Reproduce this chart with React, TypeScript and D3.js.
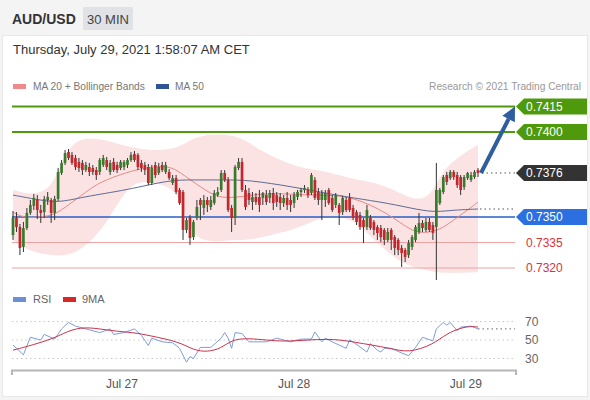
import React from "react";
import * as d3 from "d3";

// ---- Candles (30 min, AUD/USD) ----
const opens = [0.73394,0.73494,0.73441,0.73324,0.73435,0.73524,0.73565,0.73600,0.73541,0.73529,0.73600,0.73600,0.73524,0.73606,0.73759,0.73818,0.73882,0.73865,0.73847,0.73824,0.73818,0.73776,0.73794,0.73788,0.73776,0.73765,0.73806,0.73835,0.73765,0.73824,0.73806,0.73788,0.73794,0.73806,0.73835,0.73871,0.73865,0.73818,0.73806,0.73794,0.73700,0.73806,0.73759,0.73806,0.73765,0.73765,0.73700,0.73729,0.73659,0.73647,0.73424,0.73494,0.73382,0.73494,0.73600,0.73553,0.73600,0.73559,0.73582,0.73629,0.73659,0.73759,0.73718,0.73553,0.73494,0.73788,0.73824,0.73659,0.73641,0.73588,0.73618,0.73618,0.73612,0.73629,0.73612,0.73641,0.73629,0.73618,0.73582,0.73612,0.73600,0.73582,0.73618,0.73647,0.73659,0.73659,0.73641,0.73718,0.73647,0.73600,0.73600,0.73659,0.73612,0.73571,0.73571,0.73529,0.73600,0.73612,0.73553,0.73529,0.73512,0.73482,0.73441,0.73494,0.73471,0.73441,0.73435,0.73424,0.73365,0.73424,0.73382,0.73365,0.73318,0.73306,0.73276,0.73324,0.73365,0.73412,0.73465,0.73424,0.73471,0.73453,0.73441,0.73582,0.73647,0.73747,0.73729,0.73765,0.73747,0.73735,0.73676,0.73729,0.73718,0.73735,0.73776];
const highs = [0.73535,0.73529,0.73459,0.73471,0.73553,0.73600,0.73635,0.73629,0.73571,0.73624,0.73647,0.73612,0.73624,0.73788,0.73835,0.73894,0.73900,0.73882,0.73865,0.73847,0.73835,0.73824,0.73818,0.73806,0.73794,0.73847,0.73865,0.73853,0.73835,0.73847,0.73824,0.73835,0.73835,0.73847,0.73882,0.73888,0.73876,0.73835,0.73824,0.73812,0.73806,0.73824,0.73818,0.73824,0.73824,0.73782,0.73747,0.73747,0.73671,0.73659,0.73494,0.73512,0.73482,0.73600,0.73612,0.73629,0.73618,0.73624,0.73659,0.73676,0.73776,0.73776,0.73735,0.73571,0.73806,0.73847,0.73847,0.73688,0.73671,0.73647,0.73641,0.73659,0.73647,0.73659,0.73659,0.73671,0.73647,0.73641,0.73629,0.73647,0.73629,0.73647,0.73659,0.73671,0.73688,0.73676,0.73759,0.73735,0.73671,0.73659,0.73659,0.73671,0.73629,0.73641,0.73582,0.73624,0.73618,0.73641,0.73571,0.73541,0.73529,0.73494,0.73571,0.73512,0.73482,0.73453,0.73453,0.73435,0.73435,0.73435,0.73394,0.73376,0.73335,0.73318,0.73365,0.73394,0.73453,0.73524,0.73482,0.73494,0.73494,0.73471,0.73818,0.73671,0.73747,0.73765,0.73776,0.73776,0.73765,0.73747,0.73747,0.73765,0.73765,0.73776,0.73788];
const lows = [0.73365,0.73412,0.73276,0.73294,0.73424,0.73512,0.73541,0.73488,0.73465,0.73494,0.73571,0.73465,0.73482,0.73594,0.73747,0.73806,0.73835,0.73806,0.73776,0.73765,0.73747,0.73765,0.73741,0.73747,0.73718,0.73747,0.73794,0.73776,0.73747,0.73765,0.73759,0.73776,0.73776,0.73788,0.73824,0.73824,0.73776,0.73765,0.73747,0.73688,0.73688,0.73729,0.73747,0.73765,0.73753,0.73718,0.73688,0.73635,0.73571,0.73365,0.73406,0.73335,0.73365,0.73482,0.73482,0.73512,0.73529,0.73541,0.73571,0.73618,0.73647,0.73706,0.73529,0.73412,0.73453,0.73776,0.73647,0.73541,0.73571,0.73541,0.73571,0.73529,0.73571,0.73571,0.73582,0.73541,0.73559,0.73541,0.73559,0.73541,0.73529,0.73553,0.73600,0.73618,0.73641,0.73612,0.73629,0.73600,0.73571,0.73482,0.73559,0.73571,0.73529,0.73553,0.73453,0.73512,0.73529,0.73529,0.73482,0.73453,0.73424,0.73347,0.73424,0.73424,0.73394,0.73365,0.73353,0.73335,0.73353,0.73306,0.73276,0.73276,0.73206,0.73235,0.73259,0.73306,0.73353,0.73400,0.73412,0.73412,0.73412,0.73365,0.73129,0.73571,0.73635,0.73688,0.73718,0.73718,0.73671,0.73629,0.73659,0.73718,0.73706,0.73724,0.73735];
const closes = [0.73494,0.73441,0.73318,0.73435,0.73524,0.73571,0.73612,0.73541,0.73524,0.73606,0.73618,0.73524,0.73606,0.73765,0.73818,0.73876,0.73847,0.73818,0.73794,0.73788,0.73776,0.73806,0.73765,0.73765,0.73747,0.73835,0.73847,0.73794,0.73818,0.73776,0.73776,0.73824,0.73824,0.73835,0.73865,0.73835,0.73794,0.73788,0.73776,0.73700,0.73788,0.73747,0.73794,0.73776,0.73806,0.73729,0.73729,0.73647,0.73582,0.73424,0.73482,0.73376,0.73471,0.73559,0.73571,0.73600,0.73571,0.73600,0.73641,0.73647,0.73759,0.73718,0.73541,0.73494,0.73794,0.73824,0.73659,0.73559,0.73600,0.73618,0.73588,0.73571,0.73641,0.73588,0.73641,0.73582,0.73588,0.73582,0.73612,0.73571,0.73571,0.73629,0.73647,0.73659,0.73671,0.73629,0.73747,0.73612,0.73600,0.73641,0.73641,0.73582,0.73541,0.73629,0.73524,0.73612,0.73541,0.73541,0.73500,0.73471,0.73441,0.73441,0.73541,0.73435,0.73424,0.73406,0.73382,0.73365,0.73412,0.73365,0.73318,0.73306,0.73288,0.73265,0.73347,0.73382,0.73441,0.73465,0.73435,0.73471,0.73424,0.73406,0.73659,0.73659,0.73735,0.73706,0.73765,0.73735,0.73688,0.73659,0.73735,0.73759,0.73747,0.73765,0.73759];

// ---- Indicators (at candle indices) ----
const ma20Idx = [0,3,8,12,16,21,25,33,39,45,48,54,60,68,76,83,91,98,108,115,119,123,127,131,134];
const ma20Val = [0.73529,0.73494,0.73500,0.73512,0.73571,0.73647,0.73706,0.73765,0.73794,0.73800,0.73765,0.73676,0.73600,0.73629,0.73641,0.73629,0.73629,0.73618,0.73524,0.73412,0.73406,0.73424,0.73482,0.73541,0.73588];
const bandIdx = [0,5,11,14,18,22,27,31,35,39,44,48,51,54,58,63,67,71,77,83,88,94,99,104,110,114,119,122,124,129,134];
const bandUpper = [0.73659,0.73629,0.73659,0.73835,0.73953,0.73965,0.73953,0.73924,0.73906,0.73894,0.73894,0.73912,0.73953,0.73976,0.73988,0.73982,0.73953,0.73894,0.73835,0.73788,0.73776,0.73747,0.73718,0.73706,0.73659,0.73612,0.73600,0.73688,0.73776,0.73865,0.73924];
const bandLower = [0.73365,0.73294,0.73276,0.73271,0.73288,0.73347,0.73465,0.73612,0.73706,0.73706,0.73688,0.73629,0.73424,0.73365,0.73353,0.73365,0.73365,0.73376,0.73406,0.73441,0.73494,0.73506,0.73471,0.73365,0.73259,0.73212,0.73188,0.73176,0.73171,0.73171,0.73176];
const ma50Idx = [0,6,13,20,33,45,52,61,68,81,90,98,108,117,122,127,134];
const ma50Val = [0.73629,0.73606,0.73582,0.73618,0.73659,0.73718,0.73718,0.73718,0.73718,0.73676,0.73641,0.73612,0.73582,0.73541,0.73529,0.73541,0.73547];

const rsiIdx = [0,3,5,8,9,12,14,16,18,21,25,28,29,32,35,37,39,40,43,46,48,50,51,52,54,57,60,61,62,63,64,66,68,73,76,80,83,86,87,89,90,92,96,97,98,102,103,105,106,107,109,112,114,116,118,121,122,124,125,126,128,129,132,134];
const rsiVal = [44.6,34,53,50,56,51,62,69,65,62,58,62,56,58,62,55,44,52,48,47,41,26,32,30,42,42,52,58,52,41,58,57,48,48,52,48,51,51,58.6,48,52,48,41,50,48,37,46,39,37,41,41,36,33,42,53,49,62,69,66,69,60,64,65,62];
const rsiMaIdx = [0,6,12,17,22,28,35,39,48,52,56,60,63,67,73,79,91,98,109,114,121,125,129,132,134];
const rsiMaVal = [39,45,52,62,64,60,58,55,48,39,37,41,50,52,50,48,52,48,41,36,45,57,63,65,64];
const rsiLevels = [70, 50, 30];

// ---- Levels & labels ----
const resistances = [0.7415, 0.7400];
const pivot = 0.7350;
const supports = [0.7335, 0.7320];
const lastPriceLabel = "0.7376";
const targetPrice = 0.7415;
const dayTicks = [
  { at: 31.4, label: "Jul 27" },
  { at: 81.0, label: "Jul 28" },
  { at: 130.5, label: "Jul 29" },
];

const FONT = "'Liberation Sans', Arial, Helvetica, sans-serif";
const GREEN = "#4e9a0c";
const BLUE = "#2b6fe0";
const CANDLE_UP = "#3b7a2e";
const CANDLE_DN = "#c0282e";

function LabelBox({ yc, text, fill }: { yc: number; text: string; fill: string }) {
  const x0 = 516, x1 = 524, x2 = 587, h = 8;
  const pts = `${x0},${yc} ${x1},${yc - h} ${x2},${yc - h} ${x2},${yc + h} ${x1},${yc + h}`;
  return (
    <g>
      <polygon points={pts} fill={fill} />
      <text x={526} y={yc + 4.3} fill="#fff" fontSize={12} fontFamily={FONT}>{text}</text>
    </g>
  );
}

export default function App() {
  const N = closes.length;
  const x = d3.scaleLinear().domain([0, N - 1]).range([13, 478]);
  const y = d3.scaleLinear().domain([0.732, 0.7415]).range([268, 106.5]);
  const yr = d3.scaleLinear().domain([30, 70]).range([358.5, 321.5]);
  const L = 12, R = 515;

  const bandPath = d3.area<number>()
    .x((_, i) => x(bandIdx[i]))
    .y0((_, i) => y(bandLower[i]))
    .y1((d) => y(d))
    .curve(d3.curveBasis)(bandUpper) || "";
  const ma20Path = d3.line<number>().x((_, i) => x(ma20Idx[i])).y((d) => y(d)).curve(d3.curveBasis)(ma20Val) || "";
  const ma50Path = d3.line<number>().x((_, i) => x(ma50Idx[i])).y((d) => y(d)).curve(d3.curveBasis)(ma50Val) || "";
  const rsiPath = d3.line<number>().x((_, i) => x(rsiIdx[i])).y((d) => yr(d))(rsiVal) || "";
  const rsiMaPath = d3.line<number>().x((_, i) => x(rsiMaIdx[i])).y((d) => yr(d)).curve(d3.curveBasis)(rsiMaVal) || "";

  const bw = 2.7;
  const lastX = x(N - 1);
  const lastY = y(closes[N - 1]);

  // arrow
  const ax0 = lastX + 3, ay0 = lastY;
  const ax1 = R, ay1 = y(targetPrice);
  const dx = ax1 - ax0, dy = ay1 - ay0, len = Math.hypot(dx, dy);
  const ux = dx / len, uy = dy / len;
  const hl = 14, hw = 7;
  const bx = ax1 - ux * hl, by = ay1 - uy * hl;
  const head = `${ax1},${ay1} ${bx - uy * hw},${by + ux * hw} ${bx + uy * hw},${by - ux * hw}`;

  return (
    <div style={{ position: "absolute", left: 0, top: 0, width: 590, height: 400 }}>
      <svg width={590} height={400} style={{ display: "block" }} fontFamily={FONT}>
        <rect x={0} y={0} width={590} height={400} fill="#f4f4f4" />
        <rect x={2.5} y={35.5} width={585} height={361} fill="#fff" stroke="#e8e8e8" />
        {/* header */}
        <text x={12} y={24} fontSize={14} fontWeight="bold" fill="#333">AUD/USD</text>
        <rect x={83} y={7} width={50} height={23} fill="#e0e2e5" rx={1} />
        <text x={108} y={23.5} fontSize={13} fill="#444" textAnchor="middle">30 MIN</text>
        <text x={13} y={54} fontSize={13} fill="#333">Thursday, July 29, 2021 1:58:07 AM CET</text>

        {/* legend */}
        <rect x={13} y={84} width={13} height={5} fill="#f08a8a" />
        <text x={33} y={90} fontSize={10.2} fill="#777">MA 20 + Bollinger Bands</text>
        <rect x={156} y={84} width={13} height={5} fill="#2f5597" />
        <text x={175} y={90} fontSize={10.2} fill="#777">MA 50</text>
        <text x={581} y={90} fontSize={10.2} fill="#999" textAnchor="end">Research © 2021 Trading Central</text>

        {/* bollinger band */}
        <path d={bandPath} fill="#f9d0d0" fillOpacity={0.6} />

        {/* levels */}
        {resistances.map((r) => (
          <line key={r} x1={L} x2={R} y1={y(r)} y2={y(r)} stroke={GREEN} strokeWidth={2} />
        ))}
        <line x1={L} x2={R} y1={y(pivot)} y2={y(pivot)} stroke="#2a5fc4" strokeWidth={1.3} />
        {supports.map((s) => (
          <line key={s} x1={L} x2={R} y1={y(s)} y2={y(s)} stroke="#eda3a3" strokeWidth={1} />
        ))}

        <path d={ma20Path} fill="none" stroke="#e58a8a" strokeWidth={1} />
        <path d={ma50Path} fill="none" stroke="#5d6b95" strokeWidth={1} />

        {/* candles */}
        {closes.map((c, i) => {
          const o = opens[i];
          const up = c >= o;
          const cx = x(i);
          const top = y(Math.max(o, c));
          const bot = y(Math.min(o, c));
          return (
            <g key={i}>
              <line x1={cx} x2={cx} y1={y(highs[i])} y2={y(lows[i])} stroke="#333" strokeWidth={1} />
              <rect x={cx - bw / 2} y={top} width={bw} height={Math.max(1, bot - top)} fill={up ? CANDLE_UP : CANDLE_DN} />
            </g>
          );
        })}

        {/* dotted current lines */}
        <line x1={lastX + 4} x2={R} y1={lastY} y2={lastY} stroke="#555" strokeDasharray="1.5,3" />
        <line x1={lastX + 2} x2={R} y1={y(ma50Val[ma50Val.length - 1])} y2={y(ma50Val[ma50Val.length - 1])} stroke="#555" strokeDasharray="1.5,3" />

        {/* arrow */}
        <line x1={ax0} y1={ay0} x2={bx} y2={by} stroke="#2f5e9e" strokeWidth={4} />
        <polygon points={head} fill="#2f5e9e" />

        {/* right labels */}
        {resistances.map((r) => (
          <LabelBox key={r} yc={y(r)} text={r.toFixed(4)} fill={GREEN} />
        ))}
        <LabelBox yc={lastY} text={lastPriceLabel} fill="#333" />
        <LabelBox yc={y(pivot)} text={pivot.toFixed(4)} fill={BLUE} />
        {supports.map((s) => (
          <text key={s} x={526} y={y(s) + 4.3} fontSize={12} fill="#d6343c">{s.toFixed(4)}</text>
        ))}

        {/* RSI panel */}
        <rect x={13} y={297} width={13} height={5} fill="#6d8fd6" />
        <text x={33} y={303} fontSize={11} fill="#666">RSI</text>
        <rect x={63} y={297} width={13} height={5} fill="#d92626" />
        <text x={82} y={303} fontSize={11} fill="#666">9MA</text>

        {rsiLevels.map((lv) => (
          <g key={lv}>
            <line x1={L} x2={R} y1={yr(lv)} y2={yr(lv)} stroke="#c8c8c8" strokeDasharray="1.5,3" />
            <text x={525} y={yr(lv) + 4.2} fontSize={12} fill="#666">{lv}</text>
          </g>
        ))}
        <path d={rsiPath} fill="none" stroke="#7f9ddb" strokeWidth={1} />
        <path d={rsiMaPath} fill="none" stroke="#c8324a" strokeWidth={1} />
        <line x1={lastX} x2={R} y1={yr(rsiVal[rsiVal.length - 1])} y2={yr(rsiVal[rsiVal.length - 1])} stroke="#666" strokeDasharray="1.5,3" />

        {/* time axis */}
        <path d={`M${L},375V370.5H${R + 1}V375`} fill="none" stroke="#b5b5b5" strokeWidth={2} />
        {dayTicks.map((t) => (
          <text key={t.label} x={x(t.at)} y={388} fontSize={12} fill="#555" textAnchor="middle">{t.label}</text>
        ))}
      </svg>
    </div>
  );
}
